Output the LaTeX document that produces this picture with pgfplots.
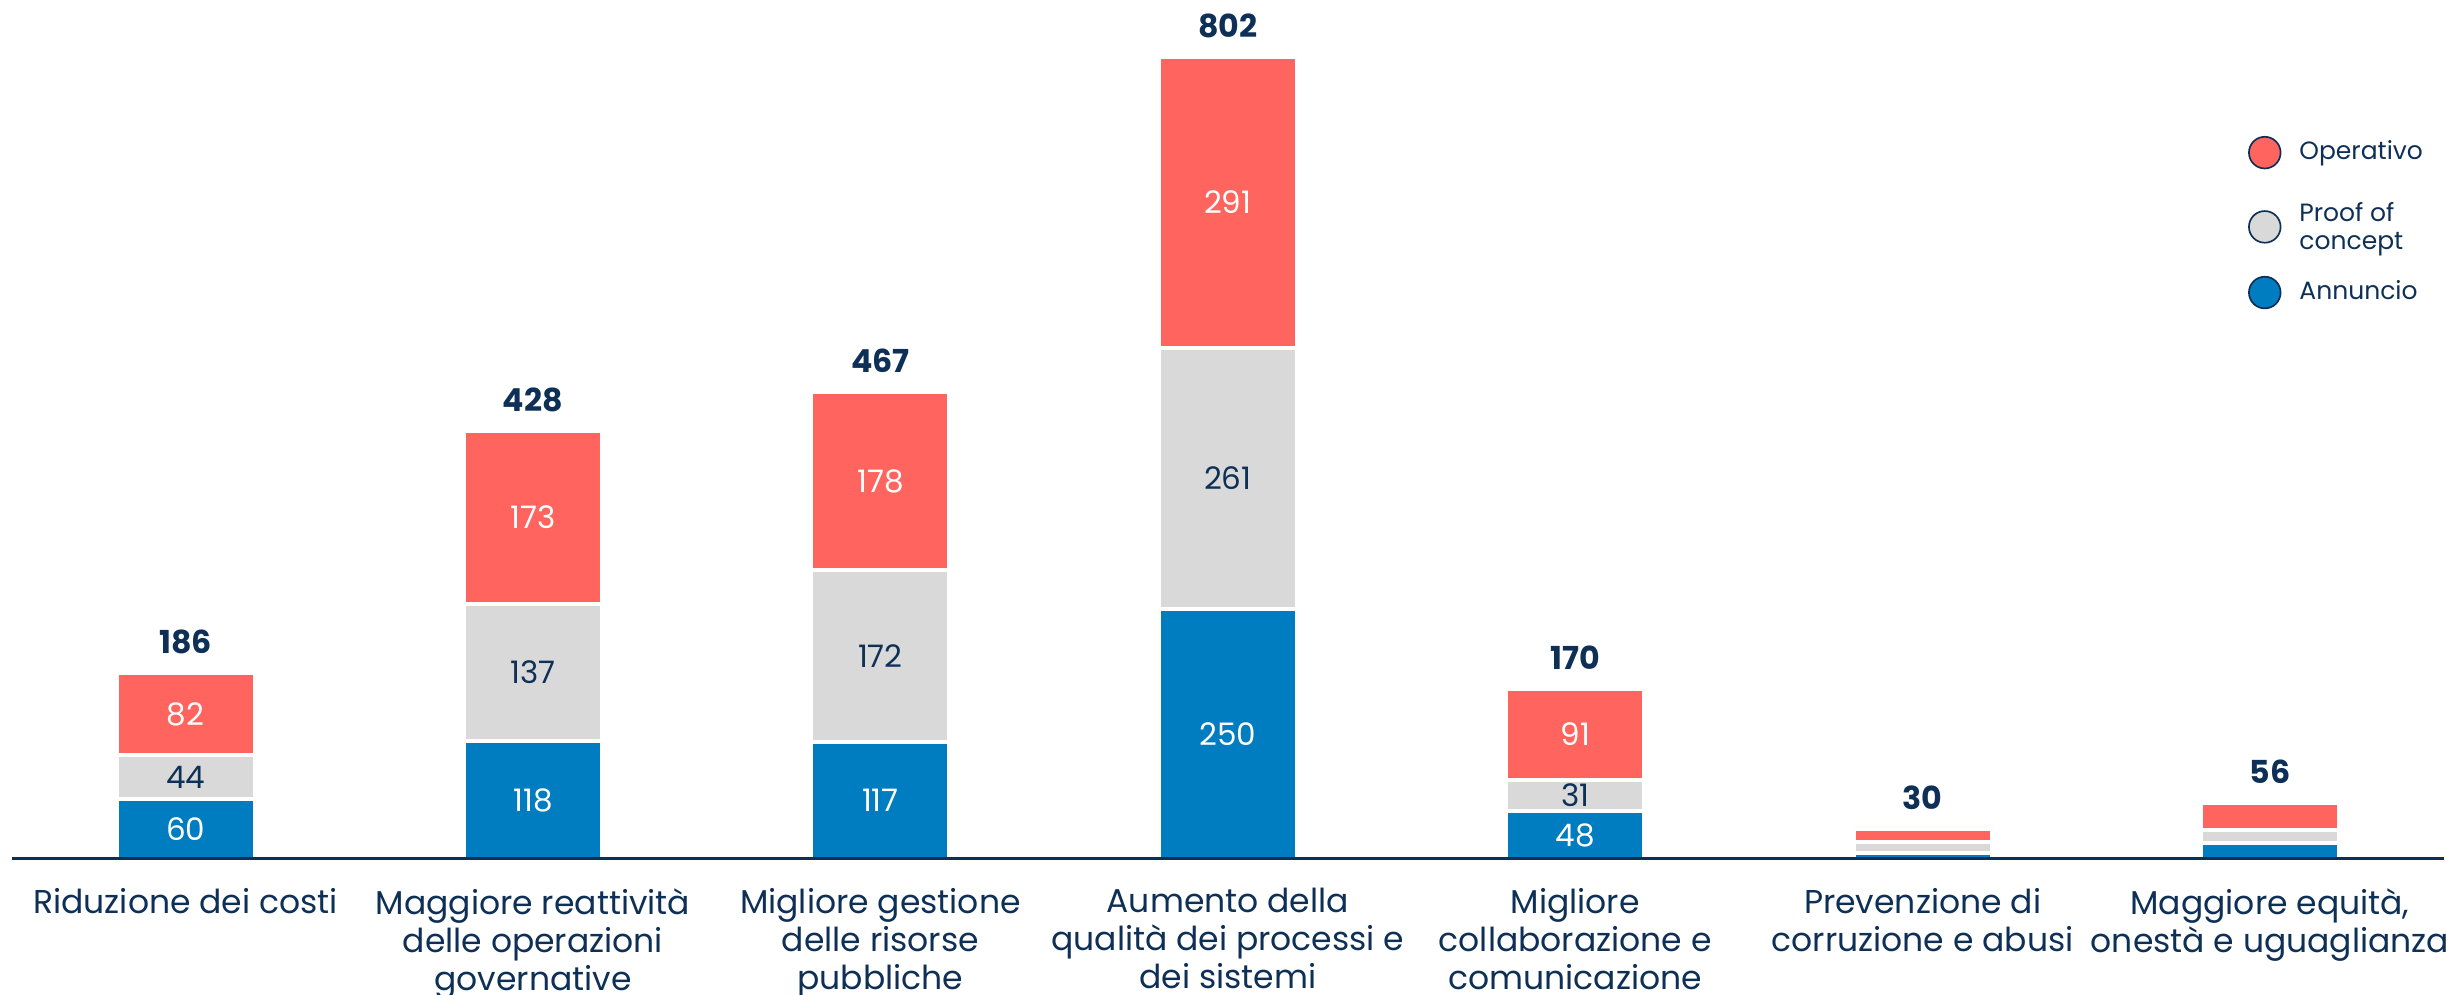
\documentclass[border=0pt]{standalone}
\usepackage{pgfplots}
\pgfplotsset{compat=1.18}
\usepackage{pgfplotstable}
\usepackage{fontspec}
\setmainfont{Poppins}
\definecolor{cred}{HTML}{FF655E}
\definecolor{cgray}{HTML}{D9D9D9}
\definecolor{cblue}{HTML}{007CC0}
\definecolor{navy}{HTML}{0E3056}

% segment values
\pgfplotstableread{
x blue gray red tot
0 60 44 82 186
1 118 137 173 428
2 117 172 178 467
3 250 261 291 802
4 48 31 91 170
5 6 11 13 30
6 16 13 27 56
}\data

% labels on blue and red segments (y = middle of the segment)
\pgfplotstableread{
x y lbl
0 30 60
1 59 118
2 58.5 117
3 125 250
4 24 48
0 145 82
1 341.5 173
2 378 178
3 656.5 291
4 124.5 91
}\whitelab

% labels on grey segments
\pgfplotstableread{
x y lbl
0 82 44
1 186.5 137
2 203 172
3 380.5 261
4 63.5 31
}\navylab

\pgfplotsset{
  seg/.style={fill=#1, draw=white, line width=1.35pt, forget plot},
  base/.style={scale only axis, width=729.54pt, height=257.7pt,
    xmin=-0.5, xmax=6.5, ymin=0, ymax=859, clip=false},
}

\begin{document}
\begin{tikzpicture}
\begin{axis}[
  base, name=ax,
  ybar stacked, bar width=0.399,
  axis x line=bottom, axis y line=none,
  x axis line style={-, draw=navy, line width=0.9pt},
  xtick={0,...,6}, ytick=\empty,
  major tick length=0pt,
  xticklabels={
    {Riduzione dei costi},
    {Maggiore reattività\\delle operazioni\\governative},
    {Migliore gestione\\delle risorse\\pubbliche},
    {Aumento della\\qualità dei processi e\\dei sistemi},
    {Migliore\\collaborazione e\\comunicazione},
    {Prevenzione di\\corruzione e abusi},
    {Maggiore equità,\\onestà e uguaglianza}},
  xticklabel style={anchor=north, inner sep=0pt, yshift=-8.6pt, align=center,
    text=navy, font=\fontsize{9.9}{11.4}\selectfont},
  axis on top,
  legend style={draw=none, fill=none, inner sep=0pt, outer sep=0pt,
    at={(axis cs:5.937,723)}, anchor=north west,
    row sep=9.7pt, column sep=5.4pt,
    nodes={inner sep=0pt, text=navy, font=\fontsize{7.5}{8.5}\selectfont}},
  legend cell align=left,
]
\addlegendimage{legend image code/.code={\draw[fill=cred, draw=navy, line width=0.5pt] (4.75pt,0pt) circle (4.75pt);}}
\addlegendentry{Operativo}
\addlegendimage{legend image code/.code={\draw[fill=cgray, draw=navy, line width=0.5pt] (4.75pt,-1.7pt) circle (4.75pt);}}
\addlegendentry{\begin{tabular}{@{}l@{}}Proof of\\concept\end{tabular}}
\addlegendimage{legend image code/.code={\draw[fill=cblue, draw=navy, line width=0.5pt] (4.75pt,0pt) circle (4.75pt);}}
\addlegendentry{Annuncio}

\addplot[seg=cblue] table[x=x, y=blue] {\data};
\addplot[seg=cgray] table[x=x, y=gray] {\data};
\addplot[seg=cred] table[x=x, y=red] {\data};
\end{axis}

\begin{axis}[base, hide axis]
\addplot[draw=none, mark=none, nodes near coords={\pgfplotspointmeta},
  point meta=explicit symbolic,
  every node near coord/.style={anchor=center, inner sep=0pt, text=white,
    font=\fontsize{9.3}{10}\selectfont}]
  table[x=x, y=y, meta=lbl] {\whitelab};
\addplot[draw=none, mark=none, nodes near coords={\pgfplotspointmeta},
  point meta=explicit symbolic,
  every node near coord/.style={anchor=center, inner sep=0pt, text=navy,
    font=\fontsize{9.3}{10}\selectfont}]
  table[x=x, y=y, meta=lbl] {\navylab};
\addplot[draw=none, mark=none, nodes near coords={\pgfplotspointmeta},
  point meta=explicit symbolic,
  every node near coord/.style={anchor=base, inner sep=0pt, yshift=5.8pt, text=navy,
    font=\bfseries\fontsize{9.5}{10}\selectfont}]
  table[x=x, y=tot, meta=tot] {\data};
\end{axis}
\pgfresetboundingbox
\path ([shift={(-3.57pt,-40.8pt)}]ax.south west) rectangle ++(733.8pt,298.5pt);
\end{tikzpicture}
\end{document}
